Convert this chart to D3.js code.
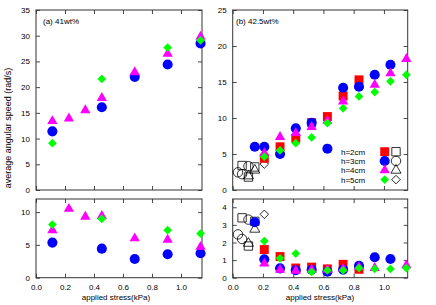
<!DOCTYPE html>
<html>
<head>
<meta charset="utf-8">
<script src="https://cdn.jsdelivr.net/npm/d3@7"></script>
<style>
  body { margin: 0; background: #fff; }
  svg { font-family: "Liberation Sans", Arial, sans-serif; }
  .axis text { font-size: 8px; fill: #000; }
  .axis path, .axis line { stroke: #333; stroke-width: 0.9; }
  .axis .domain { display: none; }
</style>
</head>
<body>
<div id="chart"></div>
<script>
// (a) 41wt%  -- upper panel
const aTopBlueX  = [0.113, 0.454, 0.681, 0.908, 1.135];
const aTopBlueY  = [11.4, 16.1, 22.0, 24.4, 28.5];
const aTopPinkX  = [0.113, 0.227, 0.340, 0.454, 0.681, 0.908, 1.135];
const aTopPinkY  = [13.4, 13.9, 15.5, 17.9, 22.9, 26.5, 29.8];
const aTopGreenX = [0.113, 0.454, 0.908, 1.135];
const aTopGreenY = [9.1, 21.6, 27.7, 29.1];

// (a) lower panel
const aBotBlueY  = [5.35, 4.43, 2.86, 3.58, 3.73];
const aBotPinkY  = [7.25, 10.5, 9.3, 9.4, 6.0, 5.8, 4.7];
const aBotGreenY = [8.1, 8.98, 7.25, 6.73];

// (b) 42.5wt% -- upper panel
const bTopRedX   = [0.209, 0.313, 0.417, 0.522, 0.626, 0.730, 0.835];
const bTopRedY   = [4.4, 6.0, 7.2, 9.35, 10.2, 13.05, 15.3];
const bTopBlueX  = [0.146, 0.209, 0.313, 0.417, 0.522, 0.626, 0.730, 0.835, 0.939, 1.043];
const bTopBlueY  = [6.0, 6.0, 5.0, 8.56, 9.35, 5.74, 14.2, 14.35, 16.0, 17.4];
const bTopPinkX  = [0.209, 0.313, 0.417, 0.522, 0.626, 0.730, 0.939, 1.043, 1.148];
const bTopPinkY  = [5.1, 7.36, 7.9, 8.75, 9.6, 12.3, 14.6, 16.2, 18.2];
const bTopGreenX = [0.209, 0.313, 0.417, 0.522, 0.626, 0.730, 0.835, 0.939, 1.043, 1.148];
const bTopGreenY = [4.63, 5.5, 6.5, 7.3, 9.3, 11.35, 13.0, 13.6, 15.1, 16.0];

// (b) lower panel
const bBotRedY   = [1.6, 1.2, 0.55, 0.6, 0.5, 0.76, 0.48];
const bBotBlueY  = [3.15, 1.05, 0.53, 0.42, 0.45, 0.34, 0.46, 0.68, 1.16, 1.06];
const bBotPinkX  = [0.209, 0.313, 0.417, 0.522, 0.626, 0.730, 0.835, 0.939, 1.148];
const bBotPinkY  = [0.8, 0.45, 0.4, 0.45, 0.45, 0.5, 0.6, 0.55, 0.7];
const bBotGreenY = [2.08, 1.1, 1.37, 0.33, 0.42, 0.42, 0.55, 0.5, 0.5, 0.55];

// (b) open symbols (same points in both panels)
const openSqX   = [0.062, 0.104, 0.146];
const openSqY   = [3.4, 1.8, 3.2];
const openCircX = [0.035, 0.062, 0.104];
const openCircY = [2.46, 2.2, 3.3];
const openTriX  = [0.104, 0.146];
const openTriY  = [1.95, 2.75];
const openDiaX  = [0.209];
const openDiaY  = [3.6];

const xTicks = [0, 0.2, 0.4, 0.6, 0.8, 1.0];
const legendLabels = ["h=2cm", "h=3cm", "h=4cm", "h=5cm"];

const W = 436, H = 305;
const svg = d3.select("#chart").append("svg").attr("width", W).attr("height", H);

// marker styles
const marks = {
  red:   {type: d3.symbolSquare,   size: 80, fill: "#ff0000", rot: 0},
  blue:  {type: d3.symbolCircle,   size: 80, fill: "#0000ff", rot: 0},
  pink:  {type: d3.symbolTriangle, size: 46, fill: "#ff00ff", rot: 0},
  green: {type: d3.symbolSquare,   size: 38, fill: "#00ff00", rot: 45},
  oSq:   {type: d3.symbolSquare,   size: 70, open: true, rot: 0},
  oCirc: {type: d3.symbolCircle,   size: 70, open: true, rot: 0},
  oTri:  {type: d3.symbolTriangle, size: 44, open: true, rot: 0},
  oDia:  {type: d3.symbolSquare,   size: 36, open: true, rot: 45}
};

function zip(xs, ys){ return xs.map((x, i) => [x, ys[i]]); }

function drawPoints(g, x, y, pts, m){
  g.append("g").selectAll("path")
    .data(pts)
    .enter().append("path")
    .attr("d", d3.symbol().type(m.type).size(m.size))
    .attr("transform", d => `translate(${x(d[0])},${y(d[1])}) rotate(${m.rot})`)
    .attr("fill", m.open ? "none" : m.fill)
    .attr("stroke", m.open ? "#000" : "none")
    .attr("stroke-width", m.open ? 0.8 : 0);
}

function panel(x, y, yTicks, showX){
  const g = svg.append("g");
  const [x0, x1] = x.range();
  const [y0, y1] = y.range();

  g.append("g").attr("class", "axis").attr("transform", `translate(${x0},0)`)
    .call(d3.axisLeft(y).tickValues(yTicks).tickSizeInner(-4).tickSizeOuter(0).tickPadding(6)
      .tickFormat(d3.format("d")));
  g.append("g").attr("class", "axis").attr("transform", `translate(${x1},0)`)
    .call(d3.axisRight(y).tickValues(yTicks).tickSizeInner(-4).tickSizeOuter(0).tickFormat(""));
  g.append("g").attr("class", "axis").attr("transform", `translate(0,${y0})`)
    .call(d3.axisBottom(x).tickValues(xTicks).tickSizeInner(-4).tickSizeOuter(0).tickPadding(7)
      .tickFormat(showX ? d3.format(".1f") : ""));
  g.append("g").attr("class", "axis").attr("transform", `translate(0,${y1})`)
    .call(d3.axisTop(x).tickValues(xTicks).tickSizeInner(-4).tickSizeOuter(0).tickFormat(""));

  g.append("rect")
    .attr("x", x0).attr("y", y1)
    .attr("width", x1 - x0).attr("height", y0 - y1)
    .attr("fill", "none").attr("stroke", "#333").attr("stroke-width", 1);
  return g;
}

// ---- panel (a)
const xa = d3.scaleLinear().domain([0, 1.145]).range([36, 202]);
const yaTop = d3.scaleLinear().domain([0, 35]).range([190, 10]);
const yaBot = d3.scaleLinear().domain([0, 12]).range([277.7, 199]);

const gaTop = panel(xa, yaTop, d3.range(0, 36, 5), false);
drawPoints(gaTop, xa, yaTop, zip(aTopBlueX, aTopBlueY), marks.blue);
drawPoints(gaTop, xa, yaTop, zip(aTopPinkX, aTopPinkY), marks.pink);
drawPoints(gaTop, xa, yaTop, zip(aTopGreenX, aTopGreenY), marks.green);

const gaBot = panel(xa, yaBot, [0, 5, 10], true);
drawPoints(gaBot, xa, yaBot, zip(aTopBlueX, aBotBlueY), marks.blue);
drawPoints(gaBot, xa, yaBot, zip(aTopPinkX, aBotPinkY), marks.pink);
drawPoints(gaBot, xa, yaBot, zip(aTopGreenX, aBotGreenY), marks.green);

// ---- panel (b)
const xb = d3.scaleLinear().domain([0, 1.157]).range([232.7, 407.7]);
const ybTop = d3.scaleLinear().domain([0, 25]).range([190, 10]);
const ybBot = d3.scaleLinear().domain([0, 4.47]).range([277.7, 199]);

function openSet(g, y){
  drawPoints(g, xb, y, zip(openSqX, openSqY), marks.oSq);
  drawPoints(g, xb, y, zip(openCircX, openCircY), marks.oCirc);
  drawPoints(g, xb, y, zip(openTriX, openTriY), marks.oTri);
  drawPoints(g, xb, y, zip(openDiaX, openDiaY), marks.oDia);
}

const gbTop = panel(xb, ybTop, d3.range(0, 26, 5), false);
openSet(gbTop, ybTop);
drawPoints(gbTop, xb, ybTop, zip(bTopRedX, bTopRedY), marks.red);
drawPoints(gbTop, xb, ybTop, zip(bTopBlueX, bTopBlueY), marks.blue);
drawPoints(gbTop, xb, ybTop, zip(bTopPinkX, bTopPinkY), marks.pink);
drawPoints(gbTop, xb, ybTop, zip(bTopGreenX, bTopGreenY), marks.green);

const gbBot = panel(xb, ybBot, [0, 1, 2, 3, 4], true);
openSet(gbBot, ybBot);
drawPoints(gbBot, xb, ybBot, zip(bTopRedX, bBotRedY), marks.red);
drawPoints(gbBot, xb, ybBot, zip(bTopBlueX, bBotBlueY), marks.blue);
drawPoints(gbBot, xb, ybBot, zip(bBotPinkX, bBotPinkY), marks.pink);
drawPoints(gbBot, xb, ybBot, zip(bTopGreenX, bBotGreenY), marks.green);

// legend
const legFilled = [marks.red, marks.blue, marks.pink, marks.green];
const legOpen = [marks.oSq, marks.oCirc, marks.oTri, marks.oDia];
const leg = svg.append("g");
legendLabels.forEach((t, i) => {
  const ly = 151.7 + i * 9.3;
  leg.append("text").attr("x", 341).attr("y", ly + 3).attr("font-size", 8).text(t);
  const f = legFilled[i], o = legOpen[i];
  leg.append("path").attr("d", d3.symbol().type(f.type).size(f.size)())
    .attr("transform", `translate(384.7,${ly}) rotate(${f.rot})`).attr("fill", f.fill);
  leg.append("path").attr("d", d3.symbol().type(o.type).size(o.size)())
    .attr("transform", `translate(396,${ly}) rotate(${o.rot})`)
    .attr("fill", "none").attr("stroke", "#000").attr("stroke-width", 0.8);
});

// panel titles and axis labels
svg.append("text").attr("x", 43).attr("y", 23.5).attr("font-size", 8).text("(a) 41wt%");
svg.append("text").attr("x", 236).attr("y", 23.5).attr("font-size", 8).text("(b) 42.5wt%");

svg.append("text").attr("transform", "translate(11,128) rotate(-90)")
  .attr("text-anchor", "middle").attr("font-size", 9).text("average angular speed (rad/s)");
svg.append("text").attr("x", 116).attr("y", 300).attr("text-anchor", "middle")
  .attr("font-size", 8).text("applied stress(kPa)");
svg.append("text").attr("x", 320).attr("y", 300).attr("text-anchor", "middle")
  .attr("font-size", 8).text("applied stress(kPa)");
</script>
</body>
</html>
